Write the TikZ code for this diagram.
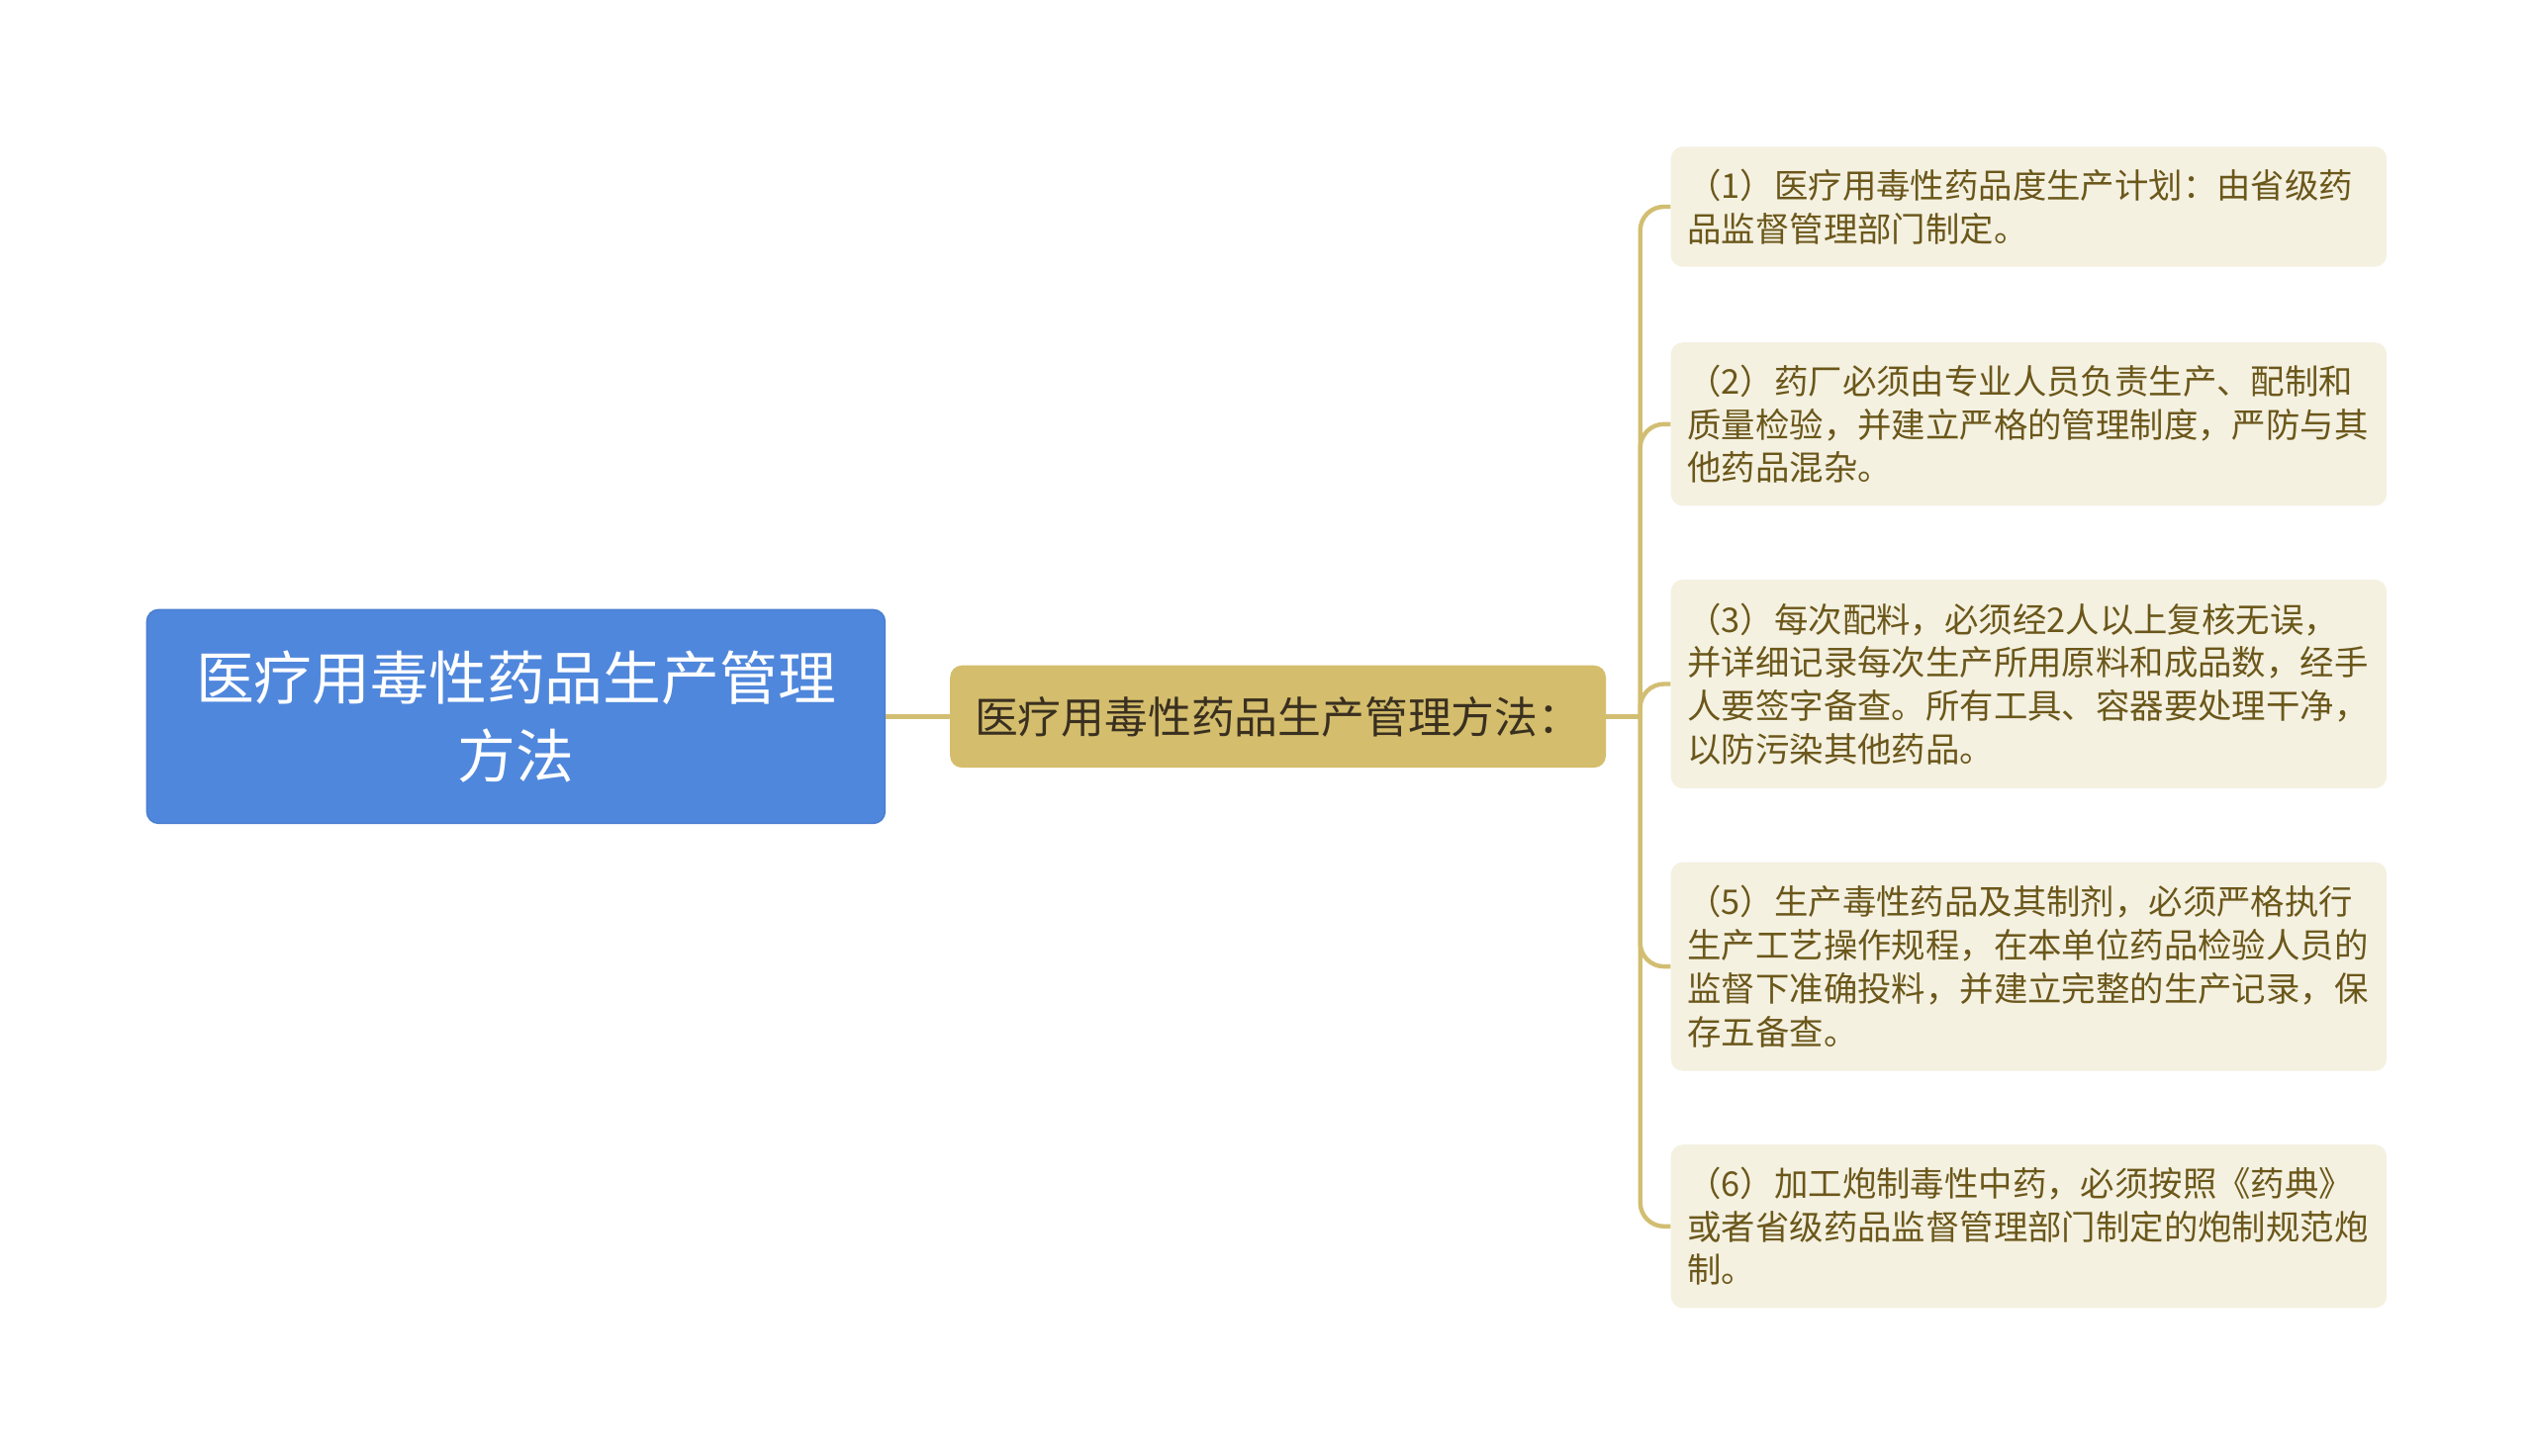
\documentclass[tikz,border=0pt]{standalone}
\usepackage{fontspec}
\setmainfont{Noto Sans CJK SC}
\definecolor{rootfill}{HTML}{4F87DC}
\definecolor{rootdraw}{HTML}{4A7FD0}
\definecolor{lonefill}{HTML}{D4BD6C}
\definecolor{lonetext}{HTML}{3A3020}
\definecolor{leaffill}{HTML}{F4F1E1}
\definecolor{leaftext}{HTML}{6B571A}
\definecolor{linkcol}{HTML}{D2BE72}
\tikzset{
  rootbox/.style={rectangle, rounded corners=6pt, fill=rootfill, draw=rootdraw, line width=0.8pt,
    minimum width=373pt, minimum height=108pt, align=center, text=white,
    font=\fontsize{29.4pt}{39.3pt}\selectfont},
  lonebox/.style={rectangle, rounded corners=6pt, fill=lonefill, minimum width=331.4pt, minimum height=51.7pt,
    text=lonetext, font=\fontsize{21.9pt}{26pt}\selectfont, inner sep=0pt},
  leafbox/.style={rectangle, rounded corners=6pt, fill=leaffill, minimum width=361.7pt,
    text width=345pt, inner xsep=8.3pt, inner ysep=0pt, align=left, text=leaftext,
    font=\fontsize{17.2pt}{21.9pt}\selectfont},
  link/.style={draw=linkcol, line width=2.2pt, rounded corners=12pt}
}
\begin{document}
\begin{tikzpicture}[x=0.5pt,y=-0.5pt]
\useasboundingbox (0,0) rectangle (2560,1472);
\fill[white] (0,0) rectangle (2560,1472);
\node[rootbox] (root) at (521.4,724.4) {医疗用毒性药品生产管理\\方法};
\node[lonebox] (l1) at (1291.6,724.4) {医疗用毒性药品生产管理方法：};
\node[leafbox, minimum height=60.7pt] (a) at (2050.4,209) {（1）医疗用毒性药品度生产计划：由省级药\\品监督管理部门制定。};
\node[leafbox, minimum height=82.6pt] (b) at (2050.4,428.8) {（2）药厂必须由专业人员负责生产、配制和\\质量检验，并建立严格的管理制度，严防与其\\他药品混杂。};
\node[leafbox, minimum height=105.5pt] (c) at (2050.4,691.5) {（3）每次配料，必须经2人以上复核无误，\\并详细记录每次生产所用原料和成品数，经手\\人要签字备查。所有工具、容器要处理干净，\\以防污染其他药品。};
\node[leafbox, minimum height=105.5pt] (d) at (2050.4,977.1) {（5）生产毒性药品及其制剂，必须严格执行\\生产工艺操作规程，在本单位药品检验人员的\\监督下准确投料，并建立完整的生产记录，保\\存五备查。};
\node[leafbox, minimum height=82.6pt] (e) at (2050.4,1239.8) {（6）加工炮制毒性中药，必须按照《药典》\\或者省级药品监督管理部门制定的炮制规范炮\\制。};
\draw[link] (root.east) -- (l1.west);
\coordinate (j) at (1657.7,724.4);
\draw[link] (l1.east) -- (j);
\foreach \t in {a,b,c,d,e}{
  \draw[link] (j) |- (\t.west);
}
\end{tikzpicture}
\end{document}
